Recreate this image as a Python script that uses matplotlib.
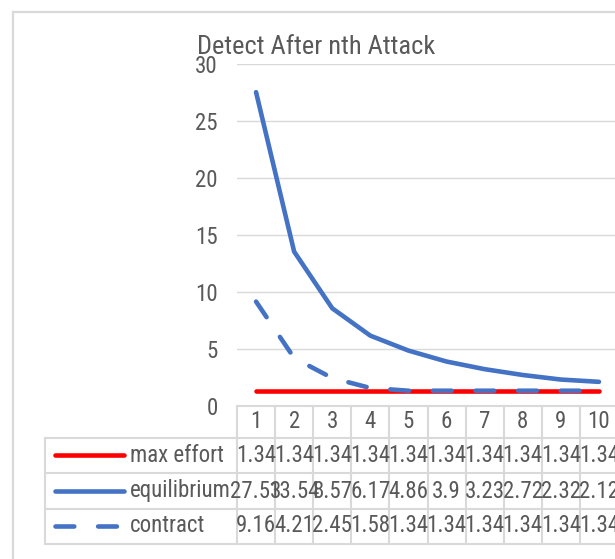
import matplotlib
matplotlib.use("Agg")
import matplotlib.pyplot as plt
from matplotlib import font_manager
from matplotlib.lines import Line2D

# ---------------- data ----------------
categories = [1, 2, 3, 4, 5, 6, 7, 8, 9, 10]
max_effort = [1.34, 1.34, 1.34, 1.34, 1.34, 1.34, 1.34, 1.34, 1.34, 1.34]
equilibrium = [27.53, 13.54, 8.57, 6.17, 4.86, 3.9, 3.23, 2.72, 2.32, 2.12]
contract = [9.16, 4.21, 2.45, 1.58, 1.34, 1.34, 1.34, 1.34, 1.34, 1.34]
series_names = ["max effort", "equilibrium", "contract"]
title = "Detect After nth Attack"
yticks = [0, 5, 10, 15, 20, 25, 30]

# ---------------- style ----------------
avail = {f.name for f in font_manager.fontManager.ttflist}
family = "DejaVu Sans"
for cand in ["Liberation Sans Narrow", "Roboto Condensed", "Liberation Sans"]:
    if cand in avail:
        family = cand
        break
plt.rcParams["font.family"] = [family, "DejaVu Sans"]

TXT = "#595959"
GRID = "#d9d9d9"
BLUE = "#4472C4"
RED = "#FF0000"
W, H = 615, 559
FS = 16.5

def fx(x):
    return x / W

def fy(y):
    return 1 - y / H

fig = plt.figure(figsize=(W / 100, H / 100), dpi=100)
fig.patch.set_facecolor("white")

# outer chart border
fig.add_artist(Line2D([fx(13), fx(13)], [fy(12), fy(600)], transform=fig.transFigure, color=GRID, lw=1.6))
fig.add_artist(Line2D([fx(13), fx(700)], [fy(12), fy(12)], transform=fig.transFigure, color=GRID, lw=1.6))

# plot area (extends past the right edge like the reference)
left, right, top, bottom = 237, 618, 64, 406
ax = fig.add_axes([fx(left), fy(bottom), fx(right - left), (bottom - top) / H])
ax.set_xlim(0.5, 10.5)
ax.set_ylim(0, 30)
for s in ax.spines.values():
    s.set_visible(False)
ax.set_yticks(yticks)
ax.set_yticklabels([str(t) for t in yticks])
ax.tick_params(axis="y", length=0, pad=14, labelsize=FS, labelcolor=TXT)
ax.set_xticks([])
for t in yticks[1:]:
    ax.axhline(t, color=GRID, lw=1.0, zorder=0)

lw = 3.3
ax.plot(categories, max_effort, color=RED, lw=lw, solid_capstyle="round", zorder=2, clip_on=False)
ax.plot(categories, equilibrium, color=BLUE, lw=lw, solid_capstyle="round", zorder=3, clip_on=False)
ax.plot(categories, contract, color=BLUE, lw=lw, dashes=(4.1, 5.2), dash_capstyle="round", zorder=4, clip_on=False)

# title
fig.text(fx(316), fy(47), title, ha="center", va="center", fontsize=19, color=TXT)

# ---------------- data table ----------------
xt = ax.get_xaxis_transform()
ppx = bottom - top  # axes height in px

def ay(y):
    return (bottom - y) / ppx

hdr_bot, r1, r2, r3 = 438, 473, 509, 544
tlw = 1.5
# vertical lines between categories
for i in range(len(categories) + 1):
    xb = 0.5 + i
    ax.add_line(Line2D([xb, xb], [ay(bottom), ay(r3)], transform=xt, color=GRID, lw=tlw, clip_on=False))
# top of plot / header
fig.add_artist(Line2D([fx(left), fx(700)], [fy(bottom), fy(bottom)], transform=fig.transFigure, color=GRID, lw=tlw))
for yy in [hdr_bot, r1, r2, r3]:
    fig.add_artist(Line2D([fx(45), fx(700)], [fy(yy), fy(yy)], transform=fig.transFigure, color=GRID, lw=tlw))
fig.add_artist(Line2D([fx(45), fx(45)], [fy(hdr_bot), fy(r3)], transform=fig.transFigure, color=GRID, lw=tlw))

# header numbers
for c in categories:
    ax.text(c, ay(421), str(c), transform=xt, ha="center", va="center", fontsize=FS, color=TXT, clip_on=False)

rows = [max_effort, equilibrium, contract]
centers = [455, 491, 526]
for vals, yc in zip(rows, centers):
    for c, v in zip(categories, vals):
        ax.text(c, ay(yc), f"{v:g}", transform=xt, ha="center", va="center", fontsize=FS, color=TXT, clip_on=False)

# legend keys in table
styles = [dict(color=RED), dict(color=BLUE), dict(color=BLUE, dashes=(4.1, 5.2))]
for name, st, yc in zip(series_names, styles, centers):
    l = Line2D([fx(55), fx(124)], [fy(yc), fy(yc)], transform=fig.transFigure, lw=lw,
               solid_capstyle="round", dash_capstyle="round", **st)
    fig.add_artist(l)
    fig.text(fx(130), fy(yc), name, ha="left", va="center", fontsize=FS, color=TXT)

fig.savefig("out.png", dpi=100)
